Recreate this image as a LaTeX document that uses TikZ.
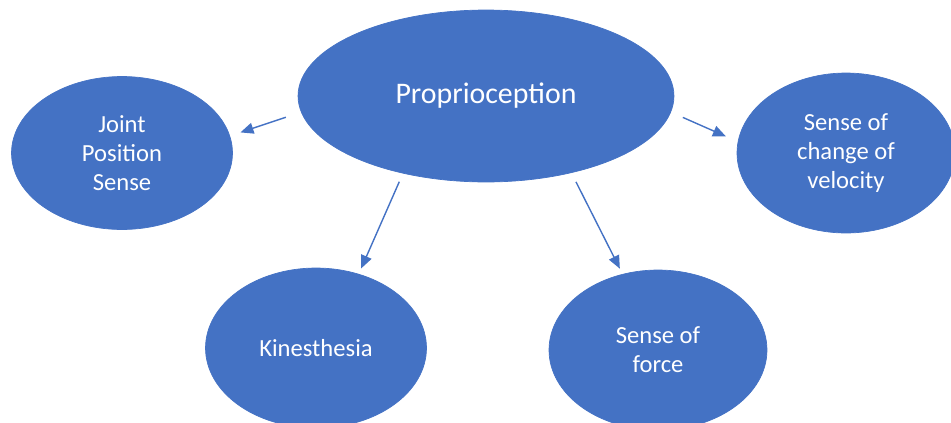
\documentclass[tikz,border=0pt]{standalone}
\usepackage{fontspec}
\setmainfont{Carlito}
\usetikzlibrary{shapes.geometric, arrows.meta}
\definecolor{officeblue}{HTML}{4472C4}
\begin{document}
\begin{tikzpicture}
      [x=0.02cm, y=-0.02cm,
       bubble/.style={ellipse,fill=officeblue,draw=officeblue,text=white,
         align=center,inner sep=0pt,font=\fontsize{14}{16.5}\selectfont},
       mainbubble/.style={bubble,font=\fontsize{17}{20}\selectfont},
       link/.style={-{Triangle[length=2.6mm,width=2.2mm]},officeblue,line width=0.8pt}]
      \useasboundingbox (0,0) rectangle (951,423);

      \node (prop) at (486,96) [mainbubble, minimum width=7.52cm, minimum height=3.44cm] {Proprioception};

      \node (joint) at (122,153) [bubble, minimum width=4.42cm, minimum height=3.06cm] {Joint\\Position\\Sense};
      \node (velo) at (846,153) [bubble, minimum width=4.36cm, minimum height=3.2cm] {Sense of\\change of\\velocity};

      \node (kin) at (316,348) [bubble, minimum width=4.42cm, minimum height=3.2cm] {Kinesthesia};
      \node (force) at (658,350) [bubble, minimum width=4.36cm, minimum height=3.2cm] {Sense of\\force};

      \draw[link, shorten <=0.32cm, shorten >=0.22cm] (prop.185) -- (joint.9);
      \draw[link, shorten <=0.26cm, shorten >=0.26cm] (prop.355) -- (velo.174);
      \draw[link, shorten <=0.18cm, shorten >=0.12cm] (prop.223) -- (kin.60);
      \draw[link, shorten <=0.2cm, shorten >=0.12cm] (prop.318) -- (force.115);
      \end{tikzpicture}
\end{document}
